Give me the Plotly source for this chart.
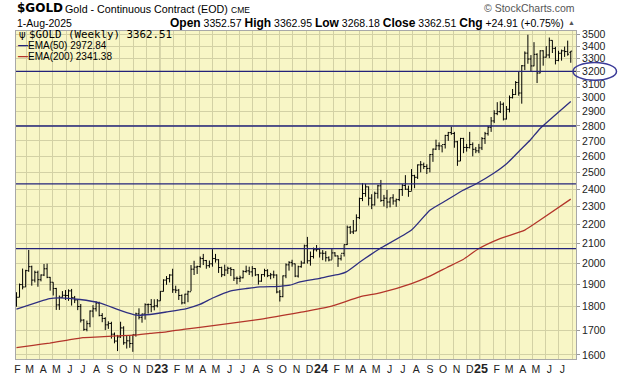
import math
import pandas as pd
import plotly.graph_objects as go

# ---------------- data (weekly bars, week starting Monday) ----------------
first_week = "2022-02-07"
opens = [
    1808, 1842, 1900, 1889, 1966, 1985, 1921, 1958, 1923, 1945, 1975, 1934, 1911, 1882, 1808, 1842,
    1851, 1850, 1871, 1840, 1830, 1801, 1742, 1703, 1727, 1781, 1791, 1816, 1762, 1749, 1722, 1728,
    1683, 1655, 1672, 1709, 1648, 1656, 1645, 1681, 1769, 1754, 1768, 1809, 1810, 1800, 1804,
    1826, 1869, 1921, 1928, 1945, 1876, 1874, 1850, 1817, 1856, 1867, 1973, 1983, 1986, 2025, 2015,
    1990, 1999, 2025, 2019, 1981, 1946, 1969, 1977, 1971, 1930, 1929, 1932, 1962, 1965, 1960, 1976,
    1946, 1916, 1947, 1966, 1942, 1946, 1945, 1866, 1845, 1941, 1994, 2006, 1999, 1940, 1985, 2003,
    2089, 2014, 2035, 2069,
    2071, 2052, 2051, 2029, 2018, 2053, 2038, 2024, 2051, 2095, 2186, 2161, 2166, 2238, 2345, 2374,
    2413, 2347, 2309, 2375, 2419, 2334, 2347, 2325, 2349, 2331, 2339, 2397, 2421, 2399, 2386, 2480,
    2470, 2546, 2547, 2536, 2524, 2611, 2646, 2668, 2667, 2676, 2736, 2755, 2749, 2694, 2570, 2716,
    2657, 2656, 2676, 2645, 2635,
    2654, 2715, 2748, 2791, 2835, 2886, 2900, 2953, 2848, 2917, 3001, 3024, 3114, 3035, 3244, 3346,
    3298, 3243, 3336, 3187, 3365, 3313, 3331, 3452, 3385, 3287, 3345, 3365, 3359, 3352.57,
]
highs = [
    1865, 1905, 1976, 1970, 2068, 1990, 1966, 1966, 1948, 1998, 2000, 1936, 1911, 1885, 1850, 1870,
    1875, 1878, 1880, 1848, 1833, 1812, 1746, 1740, 1784, 1807, 1824, 1822, 1772, 1754, 1737, 1735,
    1690, 1680, 1735, 1716, 1676, 1677, 1681, 1774, 1793, 1770, 1815, 1814, 1834, 1833, 1834,
    1870, 1925, 1940, 1949, 1975, 1895, 1880, 1855, 1858, 1872, 1993, 2014, 1990, 2035, 2048, 2018,
    2015, 2072, 2048, 2022, 1985, 1995, 1985, 1983, 1973, 1938, 1942, 1968, 1990, 1985, 1988, 1978,
    1950, 1950, 1975, 1973, 1955, 1966, 1948, 1875, 1943, 2001, 2012, 2019, 2000, 1990, 2014, 2095,
    2135, 2060, 2080, 2093,
    2079, 2067, 2062, 2036, 2075, 2057, 2040, 2045, 2096, 2195, 2193, 2225, 2256, 2350, 2435, 2431,
    2415, 2370, 2385, 2425, 2454, 2366, 2395, 2350, 2370, 2345, 2400, 2430, 2483, 2420, 2520, 2485,
    2549, 2570, 2560, 2550, 2615, 2650, 2708, 2690, 2670, 2740, 2760, 2795, 2760, 2700, 2720, 2720,
    2680, 2760, 2690, 2660, 2680,
    2725, 2760, 2800, 2862, 2910, 2968, 2975, 2966, 2940, 3017, 3065, 3125, 3201, 3250, 3360, 3500,
    3330, 3437, 3345, 3370, 3370, 3404, 3476, 3453, 3398, 3365, 3375, 3400, 3450, 3362.95,
]
lows = [
    1800, 1842, 1878, 1889, 1960, 1895, 1910, 1890, 1915, 1940, 1930, 1872, 1850, 1786, 1786, 1840,
    1830, 1826, 1805, 1816, 1785, 1732, 1697, 1695, 1712, 1754, 1779, 1758, 1733, 1700, 1705, 1665,
    1646, 1615, 1668, 1640, 1625, 1628, 1612, 1673, 1745, 1731, 1744, 1770, 1776, 1784, 1797,
    1826, 1868, 1899, 1910, 1862, 1861, 1830, 1810, 1813, 1820, 1870, 1945, 1950, 1980, 1993, 1975,
    1980, 1985, 2005, 1955, 1935, 1940, 1950, 1940, 1917, 1902, 1912, 1929, 1956, 1945, 1937, 1940,
    1900, 1913, 1937, 1935, 1925, 1930, 1860, 1823, 1842, 1930, 1966, 1985, 1935, 1933, 1980, 2000,
    2000, 1990, 2025, 2060,
    2030, 2017, 2010, 2011, 2020, 2035, 1984, 2015, 2035, 2093, 2150, 2150, 2165, 2230, 2330, 2355,
    2305, 2285, 2305, 2345, 2326, 2300, 2290, 2295, 2310, 2298, 2330, 2360, 2395, 2355, 2390, 2405,
    2460, 2500, 2520, 2490, 2500, 2565, 2640, 2640, 2625, 2650, 2700, 2740, 2655, 2540, 2570, 2620,
    2630, 2650, 2600, 2620, 2620,
    2640, 2680, 2735, 2760, 2820, 2875, 2890, 2838, 2845, 2895, 2995, 3020, 3015, 2957, 3210, 3260,
    3202, 3240, 3110, 3185, 3245, 3310, 3305, 3347, 3255, 3280, 3285, 3315, 3325, 3268.18,
]
closes = [
    1842, 1900, 1889, 1966, 1985, 1921, 1958, 1923, 1945, 1975, 1934, 1911, 1882, 1808, 1842, 1851,
    1850, 1871, 1840, 1830, 1801, 1742, 1703, 1727, 1781, 1791, 1816, 1762, 1749, 1722, 1728, 1683,
    1655, 1672, 1709, 1648, 1656, 1645, 1681, 1769, 1754, 1768, 1809, 1810, 1800, 1804, 1826,
    1869, 1921, 1928, 1945, 1876, 1874, 1850, 1817, 1856, 1867, 1973, 1983, 1986, 2025, 2015, 1990,
    1999, 2025, 2019, 1981, 1946, 1969, 1977, 1971, 1930, 1929, 1932, 1962, 1965, 1960, 1976, 1946,
    1916, 1947, 1966, 1942, 1946, 1945, 1866, 1845, 1941, 1994, 2006, 1999, 1940, 1985, 2003, 2089,
    2014, 2035, 2069, 2071,
    2052, 2051, 2029, 2018, 2053, 2038, 2024, 2051, 2095, 2186, 2161, 2166, 2238, 2345, 2374, 2413,
    2347, 2309, 2375, 2419, 2334, 2347, 2325, 2349, 2331, 2339, 2397, 2421, 2399, 2386, 2480, 2470,
    2546, 2547, 2536, 2524, 2611, 2646, 2668, 2667, 2676, 2736, 2755, 2749, 2694, 2570, 2716, 2657,
    2656, 2676, 2645, 2635, 2654,
    2715, 2748, 2791, 2835, 2886, 2900, 2953, 2848, 2917, 3001, 3024, 3114, 3035, 3244, 3346, 3298,
    3243, 3336, 3187, 3365, 3313, 3331, 3452, 3385, 3287, 3345, 3365, 3359, 3337.6, 3362.51,
]

ema50_dates = [
    "2022-02-07", "2022-04-24", "2022-05-17", "2022-07-02", "2022-08-16", "2022-10-01", "2022-11-08",
    "2022-12-09", "2023-01-16", "2023-03-03", "2023-04-02", "2023-05-03", "2023-06-10", "2023-07-18",
    "2023-08-17", "2023-10-02", "2023-10-25", "2023-11-17", "2024-01-01", "2024-01-24", "2024-02-16",
    "2024-03-02", "2024-04-02", "2024-04-25", "2024-05-18", "2024-07-29", "2024-09-09", "2024-10-17",
    "2024-11-24", "2024-12-25", "2025-02-01", "2025-03-04", "2025-04-03", "2025-04-26", "2025-05-19",
    "2025-06-18", "2025-07-28",
]
ema50_values = [
    1789, 1836, 1839, 1832, 1817, 1785, 1763, 1766, 1777, 1792, 1810, 1840, 1870, 1882, 1889, 1892,
    1897, 1913, 1929, 1940, 1949, 1960, 2008, 2042, 2075, 2171, 2279, 2335, 2393, 2433, 2493, 2555,
    2639, 2704, 2783, 2864, 2972.84,
]
ema200_dates = [
    "2022-02-07", "2022-03-17", "2022-04-24", "2022-06-01", "2022-07-09", "2022-08-16", "2022-09-24",
    "2022-11-01", "2022-12-09", "2023-01-16", "2023-02-23", "2023-04-02", "2023-08-17", "2023-11-17",
    "2024-01-24", "2024-04-02", "2024-05-18", "2024-07-29", "2024-09-09", "2024-10-17", "2024-11-24",
    "2024-12-30", "2025-02-15", "2025-04-14", "2025-05-19", "2025-07-28",
]
ema200_values = [
    1629, 1638, 1647, 1658, 1669, 1672, 1676, 1679, 1686, 1693, 1703, 1711, 1745, 1775, 1800, 1844,
    1862, 1905, 1940, 1980, 2020, 2075, 2125, 2171, 2225, 2341.38,
]

levels = [3200, 2800, 2430, 2075]
circled_level = 3200
ytick_vals = [1600, 1700, 1800, 1900, 2000, 2100, 2200, 2300, 2400, 2500,
              2600, 2700, 2800, 2900, 3000, 3100, 3200, 3300, 3400, 3500]
month_labels = [
    "F", "M", "A", "M", "J", "J", "A", "S", "O", "N", "D",
    "23", "F", "M", "A", "M", "J", "J", "A", "S", "O", "N", "D",
    "24", "F", "M", "A", "M", "J", "J", "A", "S", "O", "N", "D",
    "25", "F", "M", "A", "M", "J", "J",
]
year_lines = ["2023-01-01", "2024-01-01", "2025-01-01"]

# ---------------- layout geometry ----------------
W, H = 620, 376
ML, MR, MT, MB = 16, 44, 31, 17
PW, PH = W - ML - MR, H - MT - MB
Y_LO, Y_HI = 1584, 3532


def pxx(x):
    return (x - ML) / PW


def pxy(y):
    return (H - MB - y) / PH


dates = pd.date_range(first_week, periods=len(closes), freq="7D")
month_starts = pd.date_range("2022-02-01", periods=len(month_labels), freq="MS")
tick_pos, tick_txt = [], []
for d, lab in zip(month_starts, month_labels):
    if lab.isdigit():
        tick_pos.append(d + pd.Timedelta(days=3))
        tick_txt.append("<b><span style='font-size:12.5px'>%s</span></b>" % lab)
    else:
        tick_pos.append(d + pd.Timedelta(days=8))
        tick_txt.append(lab)

BG = "#f8f6c6"
GRID = "#d3d1a5"
NAVY = "#23237a"
FONT = "Liberation Sans"

fig = go.Figure()
fig.add_trace(go.Scatter(x=ema200_dates, y=ema200_values, mode="lines",
                         line=dict(color="#b3352a", width=1.3, shape="spline", smoothing=0.5),
                         hoverinfo="skip"))
fig.add_trace(go.Scatter(x=ema50_dates, y=ema50_values, mode="lines",
                         line=dict(color="#2e2e80", width=1.3, shape="spline", smoothing=0.5),
                         hoverinfo="skip"))
fig.add_trace(go.Ohlc(x=dates, open=opens, high=highs, low=lows, close=closes,
                      increasing=dict(line=dict(color="black", width=1)),
                      decreasing=dict(line=dict(color="black", width=1)),
                      tickwidth=0.45, hoverinfo="skip"))

shapes = []
for yd in year_lines:
    shapes.append(dict(type="line", xref="x", yref="paper", x0=yd, x1=yd, y0=0, y1=1,
                       line=dict(color="#b4b38e", width=1), layer="below"))
for lv in levels:
    shapes.append(dict(type="line", xref="paper", yref="y", x0=0, x1=1,
                       y0=lv, y1=lv, line=dict(color=NAVY, width=1.3)))
cy = (math.log10(circled_level) - math.log10(Y_LO)) / (math.log10(Y_HI) - math.log10(Y_LO))
half_h = 8.8 / PH
shapes.append(dict(type="circle", xref="paper", yref="paper",
                   x0=pxx(573), x1=pxx(616.5), y0=cy - half_h, y1=cy + half_h,
                   line=dict(color="#3a3a98", width=1.5), fillcolor="rgba(0,0,0,0)"))

ann = []


def add_text(text, x, y, size, anchor="left", color="black", family=FONT):
    ann.append(dict(text=text, x=pxx(x), y=pxy(y), xref="paper", yref="paper",
                    xanchor=anchor, yanchor="middle", showarrow=False,
                    font=dict(size=size, color=color, family=family)))


add_text("<b>$GOLD</b>", 15, 8, 12, family="DejaVu Sans")
add_text("Gold - Continuous Contract (EOD)", 62.5, 8.5, 10.7)
add_text("CME", 228.5, 9.5, 8.5)
add_text("© StockCharts.com", 577, 8, 10.5, anchor="right", color="#555555")
add_text("1-Aug-2025", 15, 23, 10.5)
ohlc_txt = ("<b><span style='font-size:12px'>Open</span></b> 3352.57 "
            "<b><span style='font-size:12px'>High</span></b> 3362.95 "
            "<b><span style='font-size:12px'>Low</span></b> 3268.18 "
            "<b><span style='font-size:12px'>Close</span></b> 3362.51 "
            "<b><span style='font-size:12px'>Chg</span></b> +24.91 (+0.75%)")
add_text(ohlc_txt, 566, 23, 10.5, anchor="right")
add_text("▲", 571.5, 23, 7, anchor="center", color="#555555")
add_text("ψ", 22, 34, 10, anchor="center", family="DejaVu Sans")
add_text("$GOLD (Weekly) 3362.51", 27, 34, 10.8, family="DejaVu Sans Mono")
add_text("<span style='color:#23237a'><b>—</b></span>EMA(50) 2972.84", 16, 45.5, 10)
add_text("<span style='color:#b3352a'><b>—</b></span>EMA(200) 2341.38", 16, 57, 10)

fig.update_layout(
    width=W, height=H,
    margin=dict(l=ML, r=MR, t=MT, b=MB, pad=0, autoexpand=False),
    paper_bgcolor="white", plot_bgcolor=BG,
    showlegend=False,
    shapes=shapes, annotations=ann,
    font=dict(family=FONT, color="#222222"),
    xaxis=dict(type="date", range=["2022-02-05 22:00", "2025-08-09"],
               rangeslider=dict(visible=False), showgrid=False, zeroline=False,
               tickmode="array", tickvals=tick_pos, ticktext=tick_txt, ticks="",
               tickangle=0, automargin=False,
               tickfont=dict(size=10.5, family=FONT, color="#222222"),
               minor=dict(dtick="M1", tick0="2022-01-01", showgrid=True,
                          gridcolor=GRID, gridwidth=1, ticks=""),
               showline=True, linecolor="#a8a8a8", linewidth=1, mirror=True,
               fixedrange=True),
    yaxis=dict(type="log", side="right",
               range=[math.log10(Y_LO), math.log10(Y_HI)],
               tickmode="array", tickvals=ytick_vals, ticktext=[str(v) for v in ytick_vals],
               showgrid=True, gridcolor=GRID, gridwidth=1, zeroline=False,
               ticks="outside", ticklen=3, tickcolor="#999999", automargin=False,
               tickfont=dict(size=10.5, family=FONT, color="#222222"),
               showline=True, linecolor="#a8a8a8", linewidth=1, mirror=True,
               fixedrange=True),
)

fig.write_html("out.html", config={"displayModeBar": False},
               post_script="document.body.style.margin='0px';document.body.style.padding='0px';")
